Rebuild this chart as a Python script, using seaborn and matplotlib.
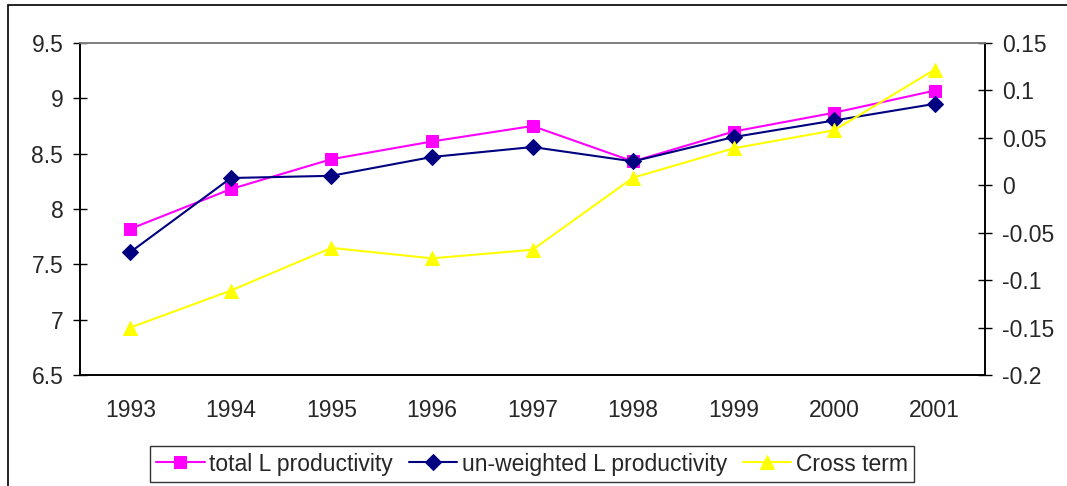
import numpy as np
import matplotlib
matplotlib.use("Agg")
import matplotlib.pyplot as plt
import matplotlib.patches as mpatches
import seaborn as sns
import pandas as pd

### data
years = ["1993", "1994", "1995", "1996", "1997", "1998", "1999", "2000", "2001"]
total_l = [7.82, 8.18, 8.45, 8.61, 8.75, 8.43, 8.70, 8.87, 9.07]
unweighted_l = [7.61, 8.28, 8.30, 8.47, 8.56, 8.43, 8.65, 8.80, 8.95]
cross_term = [-0.150, -0.111, -0.066, -0.077, -0.068, 0.008, 0.039, 0.058, 0.122]

sns.set_style("white")
plt.rcParams["font.family"] = ["Liberation Sans", "DejaVu Sans"]

df = pd.DataFrame({"x": np.arange(len(years)),
                   "total": total_l,
                   "unweighted": unweighted_l,
                   "cross": cross_term})

fig = plt.figure(figsize=(10.67, 4.86), dpi=100)
ax = fig.add_axes([80 / 1067, 1 - 375 / 486, 905 / 1067, 332 / 486])
ax2 = ax.twinx()

sns.lineplot(data=df, x="x", y="total", ax=ax, color="#FF00FF", marker="s",
             markersize=9, markeredgecolor="#FF00FF", linewidth=1.5,
             label="total L productivity", legend=False)
sns.lineplot(data=df, x="x", y="unweighted", ax=ax, color="#000080", marker="D",
             markersize=8, markeredgecolor="#000080", linewidth=1.5,
             label="un-weighted L productivity", legend=False)
sns.lineplot(data=df, x="x", y="cross", ax=ax2, color="#FFFF00", marker="^",
             markersize=10, markeredgecolor="#FFFF00", linewidth=1.5,
             label="Cross term", legend=False)

# axes ranges
ax.set_xlim(-0.5, len(years) - 0.5)
ax.set_ylim(6.5, 9.5)
ax.set_yticks([6.5, 7, 7.5, 8, 8.5, 9, 9.5])
ax.set_yticklabels(["6.5", "7", "7.5", "8", "8.5", "9", "9.5"])
ax2.set_ylim(-0.2, 0.15)
ax2.set_yticks([-0.2, -0.15, -0.1, -0.05, 0, 0.05, 0.1, 0.15])
ax2.set_yticklabels(["-0.2", "-0.15", "-0.1", "-0.05", "0", "0.05", "0.1", "0.15"])

fs = 16.5
ax.set_xticks(np.arange(len(years)))
ax.set_xticklabels(years)
ax.set_xticks(np.arange(-0.5, len(years), 1), minor=True)
ax.tick_params(axis="x", which="major", length=0, pad=17, labelsize=fs)
ax.tick_params(axis="x", which="minor", direction="inout", length=10, width=1, color="black")
ax.tick_params(axis="y", direction="inout", length=10, width=1, color="black",
               labelsize=fs, left=True, pad=7)
ax2.tick_params(axis="y", direction="inout", length=10, width=1, color="black",
                labelsize=fs, right=True, pad=7)
ax.set_xlabel("")
ax.set_ylabel("")
ax2.set_ylabel("")

for a in (ax, ax2):
    for s in a.spines.values():
        s.set_linewidth(1.2)
        s.set_color("black")
    a.spines["top"].set_color("#808080")

# outer chart frame
fig.patches.append(mpatches.Rectangle((8 / 1067, -0.5), 1.5, 1.5 - 5 / 486,
                                      transform=fig.transFigure, fill=False,
                                      edgecolor="black", linewidth=1.2))

h1, l1 = ax.get_legend_handles_labels()
h2, l2 = ax2.get_legend_handles_labels()
leg = fig.legend(h1 + h2, l1 + l2, loc="center", bbox_to_anchor=(532 / 1067, 1 - 464 / 486),
                 ncol=3, frameon=True, fancybox=False, edgecolor="black",
                 fontsize=16.5, handlelength=2.1, handletextpad=0.2, columnspacing=0.7,
                 borderpad=0.3, borderaxespad=0)
leg.get_frame().set_linewidth(1.0)

plt.savefig("out.png", dpi=100)
